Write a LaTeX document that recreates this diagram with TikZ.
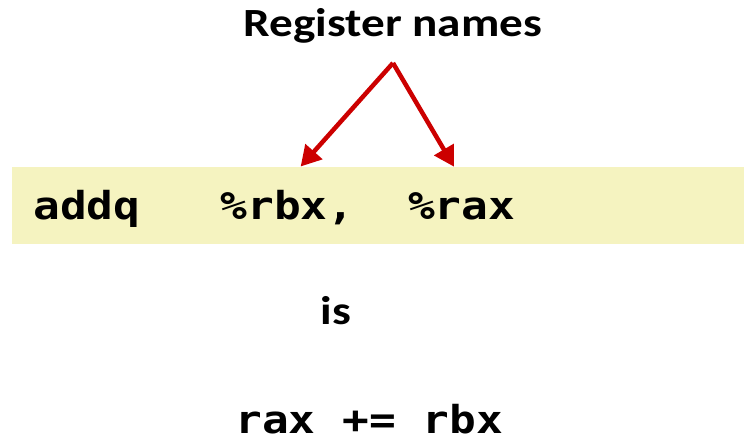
\documentclass[tikz,border=0pt]{standalone}
\usepackage{fontspec}
\setmainfont{Carlito}
\newfontfamily\codefont{DejaVu Sans Mono}
\usetikzlibrary{arrows.meta}
\definecolor{bandyellow}{RGB}{245,243,192}
\definecolor{arrowred}{RGB}{204,0,0}
\tikzset{
  title/.style={font=\fontsize{40}{40}\selectfont\bfseries, anchor=base, inner sep=0pt, text depth=0pt, xscale=1.18, transform shape},
  code/.style={font=\codefont\bfseries\fontsize{38.5}{38.5}\selectfont, anchor=base west, inner sep=0pt, text depth=0pt, xscale=1.155, transform shape},
  pointer/.style={draw=arrowred, line width=4.5pt, -{Triangle[length=20pt,width=22pt]}, shorten >=-2pt}
}
\begin{document}
\begin{tikzpicture}[x=1pt,y=-1pt]
\useasboundingbox (0,0) rectangle (744,441);
\fill[bandyellow] (12,167) rectangle (744,244);
\node[title] (t) at (393,37) {Register names};
\node[code] (instr) at (33,219) {addq\ \ \ \%rbx,\ \ \%rax};
\node[title] (is) at (336,324) {is};
\node[code] (eq) at (235,433) {rax += rbx};
\coordinate (apex) at (393,63);
\coordinate (lt) at (302,165);
\coordinate (rt) at (453,165);
\draw[pointer] (apex) -- (lt);
\draw[pointer] (apex) -- (rt);
\end{tikzpicture}
\end{document}
